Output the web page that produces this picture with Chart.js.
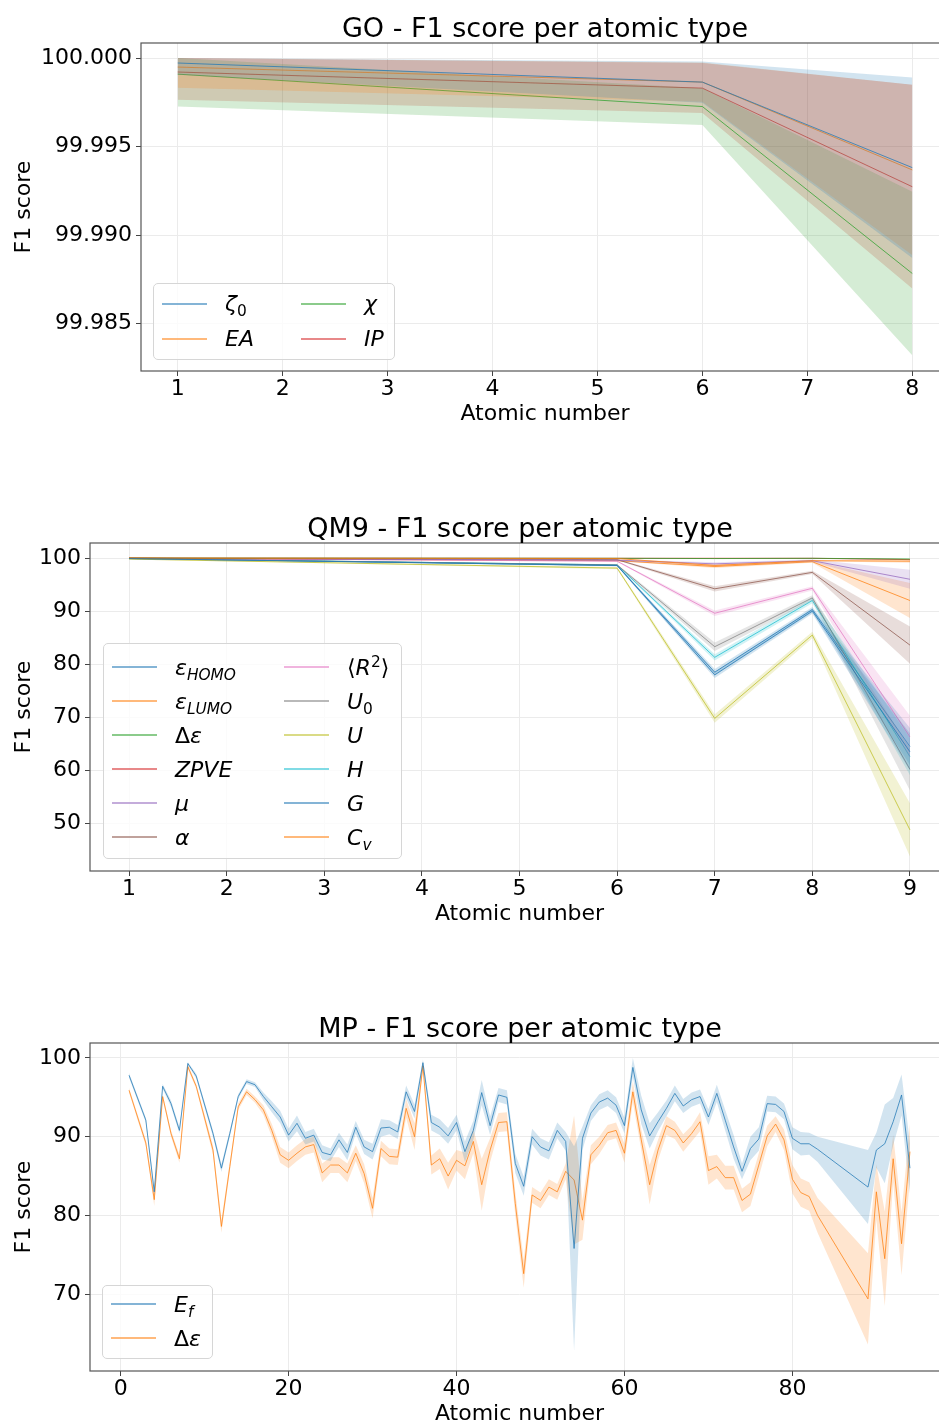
<!DOCTYPE html>
<html lang="en">
<head>
<meta charset="UTF-8">
<title>F1 score per atomic type</title>
<script src="https://cdn.jsdelivr.net/npm/chart.js@4.4.1/dist/chart.umd.min.js"></script>
<style>
    html, body { margin: 0; padding: 0; background: #fff; overflow: hidden; }
    body { width: 939px; height: 1424px; position: relative; font-family: 'DejaVu Sans', sans-serif; color: #000; }
    .panel { position: absolute; left: 0; width: 950px; height: 440px; }
    .panel canvas { position: absolute; left: 0; top: 0; }
    .ptitle { position: absolute; top: 14px; font-size: 27px; line-height: 27px; white-space: nowrap; transform: translateX(-50%); }
    .legend { position: absolute; box-sizing: border-box; background: rgba(255,255,255,0.8); border: 1px solid #d6d6d6; border-radius: 5px; }
    .legend .grid { display: grid; grid-auto-flow: column; column-gap: 44px; padding-left: 8px; }
    .legend .item { display: flex; align-items: center; font-size: 22px; white-space: nowrap; }
    .legend .swatch { display: block; flex: none; width: 45px; height: 2px; margin-right: 18px; }
    sub, sup { font-size: 70%; line-height: 0; }
</style>
</head>
<body>
    <div class="panel" style="top:0">
        <canvas id="goChart" width="950" height="440"></canvas>
        <div class="ptitle" style="left:545px">GO - F1 score per atomic type</div>
    </div>
    <div class="panel" style="top:500px">
        <canvas id="qm9Chart" width="950" height="440"></canvas>
        <div class="ptitle" style="left:520px">QM9 - F1 score per atomic type</div>
    </div>
    <div class="panel" style="top:1000px">
        <canvas id="mpChart" width="950" height="440"></canvas>
        <div class="ptitle" style="left:520px">MP - F1 score per atomic type</div>
    </div>

<script>
// tab10 colours
const tab = {
    blue: '31,119,180', orange: '255,127,14', green: '44,160,44', red: '214,39,40',
    purple: '148,103,189', brown: '140,86,75', pink: '227,119,194', gray: '127,127,127',
    olive: '188,189,34', cyan: '23,190,207'
};

// ---- GO ----
const goAtoms = [1, 6, 8];
const goZeta = [99.99972, 99.99864, 99.99381];
const goZetaLo = [99.99905, 99.99747, 99.98871];
const goZetaHi = [100.00000, 99.99981, 99.99890];
const goEA = [99.99949, 99.99864, 99.99368];
const goEALo = [99.99832, 99.99753, 99.98887];
const goEAHi = [100.00000, 99.99975, 99.99849];
const goChi = [99.99909, 99.99726, 99.98783];
const goChiLo = [99.99726, 99.99622, 99.98321];
const goChiHi = [100.00000, 99.99830, 99.99245];
const goIP = [99.99921, 99.99830, 99.99273];
const goIPLo = [99.99764, 99.99689, 99.98698];
const goIPHi = [100.00000, 99.99972, 99.99849];
const goYTicks = [99.985, 99.990, 99.995, 100.000];
const goYLabels = ['99.985', '99.990', '99.995', '100.000'];
const goXTicks = [1, 2, 3, 4, 5, 6, 7, 8];
const goLabels = ['<i>ζ</i><sub>0</sub>', '<i>EA</i>', '<i>χ</i>', '<i>IP</i>'];

// ---- QM9 ----
const qm9Atoms = [1, 6, 7, 8, 9];
const qm9Homo = [99.9, 98.6, 78.0, 90.0, 63.5];
const qm9HomoErr = [0.05, 0.15, 0.6, 0.5, 3.5];
const qm9Lumo = [100.0, 99.9, 98.6, 99.5, 99.4];
const qm9LumoErr = [0.02, 0.05, 0.2, 0.1, 0.3];
const qm9Gap = [100.0, 99.95, 99.9, 99.95, 99.8];
const qm9GapErr = [0.02, 0.03, 0.05, 0.05, 0.1];
const qm9Zpve = [100.0, 99.95, 99.95, 99.95, 99.7];
const qm9ZpveErr = [0.02, 0.03, 0.05, 0.05, 0.1];
const qm9Mu = [99.95, 99.6, 98.9, 99.5, 96.0];
const qm9MuErr = [0.03, 0.1, 0.3, 0.2, 1.8];
const qm9Alpha = [99.95, 99.7, 94.2, 97.3, 83.6];
const qm9AlphaErr = [0.03, 0.1, 0.5, 0.3, 3.5];
const qm9R2 = [99.95, 99.4, 89.6, 94.3, 66.3];
const qm9R2Err = [0.03, 0.1, 0.5, 0.4, 4.0];
const qm9U0 = [99.9, 98.7, 83.3, 92.5, 60.2];
const qm9U0Err = [0.05, 0.15, 0.8, 0.5, 4.0];
const qm9U = [99.8, 98.1, 69.8, 85.5, 48.8];
const qm9UErr = [0.05, 0.2, 0.8, 0.6, 5.0];
const qm9H = [99.9, 98.7, 81.3, 92.0, 62.6];
const qm9HErr = [0.05, 0.15, 0.6, 0.5, 3.5];
const qm9G = [99.9, 98.6, 78.5, 90.3, 64.5];
const qm9GErr = [0.05, 0.15, 0.6, 0.5, 3.5];
const qm9Cv = [99.95, 99.5, 98.4, 99.3, 92.0];
const qm9CvErr = [0.03, 0.1, 0.3, 0.2, 3.3];
const qm9YTicks = [50, 60, 70, 80, 90, 100];
const qm9XTicks = [1, 2, 3, 4, 5, 6, 7, 8, 9];
const qm9Labels = ['<i>ε</i><sub><i>HOMO</i></sub>', '<i>ε</i><sub><i>LUMO</i></sub>', 'Δ<i>ε</i>', '<i>ZPVE</i>',
    '<i>μ</i>', '<i>α</i>', '⟨<i>R</i><sup>2</sup>⟩', '<i>U</i><sub>0</sub>', '<i>U</i>', '<i>H</i>', '<i>G</i>',
    '<i>C</i><sub><i>v</i></sub>'];

// ---- MP ----
const mpAtoms = [1, 3, 4, 5, 6, 7, 8, 9,
    11, 12, 13, 14, 15, 16, 17, 18, 19, 20,
    21, 22, 23, 24, 25, 26, 27, 28, 29, 30,
    31, 32, 33, 34, 35, 36, 37, 38, 39, 40,
    41, 42, 43, 44, 45, 46, 47, 48, 49, 50,
    51, 52, 53, 54, 55, 56, 57, 58, 59, 60,
    61, 62, 63, 64, 65, 66, 67, 68, 69, 70,
    71, 72, 73, 74, 75, 76, 77, 78, 79, 80,
    81, 82, 83, 89, 90, 91, 92, 93, 94];
const mpEf = [97.8, 92.1, 83.0, 96.4, 94.2, 90.8, 99.3, 97.7,
    90.4, 86.0, 90.4, 95.1, 97.0, 96.6, 95.1, 93.8, 92.5, 90.2,
    91.7, 89.8, 90.2, 88.0, 87.7, 89.6, 88.0, 91.2, 88.7, 88.1,
    91.1, 91.2, 90.6, 95.7, 93.2, 99.4, 91.8, 91.2, 90.1, 91.8,
    88.1, 90.8, 95.6, 91.4, 95.3, 95.0, 86.6, 83.7, 90.0, 88.7,
    88.2, 90.8, 89.4, 75.8, 89.8, 93.0, 94.4, 94.9, 94.0, 91.4,
    98.8, 93.4, 90.1, 91.9, 93.6, 95.5, 93.9, 94.7, 95.1, 92.5,
    95.5, 92.1, 88.7, 85.6, 88.5, 89.7, 94.2, 94.1, 93.2, 89.8,
    89.1, 89.1, 88.4, 83.6, 88.3, 89.1, 91.9, 95.3, 86.0];
const mpEfErr = [0.3, 0.3, 0.5, 0.3, 0.4, 0.4, 0.2, 0.3,
    0.4, 0.5, 0.4, 0.3, 0.3, 0.3, 0.5, 0.7, 0.8, 0.8,
    1.0, 0.8, 0.8, 0.9, 0.8, 0.9, 1.0, 0.8, 0.9, 1.0,
    1.1, 0.9, 0.9, 0.8, 0.9, 0.4, 1.0, 1.0, 1.0, 1.0,
    1.3, 1.2, 1.6, 1.2, 0.9, 0.9, 1.2, 1.2, 1.0, 1.1,
    1.1, 1.0, 1.2, 13.0, 1.5, 1.0, 1.0, 1.0, 1.0, 1.0,
    1.2, 1.8, 1.6, 1.2, 1.0, 1.0, 0.9, 0.9, 0.9, 1.0,
    1.1, 1.3, 1.5, 1.0, 1.5, 1.5, 1.0, 1.0, 1.0, 1.4,
    1.5, 1.4, 1.6, 4.7, 2.2, 5.0, 3.0, 2.6, 3.2];
const mpGap = [95.9, 89.2, 82.0, 95.1, 90.4, 87.2, 98.9, 96.4,
    88.3, 78.6, 86.2, 93.8, 95.7, 94.7, 93.4, 90.8, 87.7, 87.0,
    87.9, 88.7, 89.0, 85.4, 86.4, 86.4, 85.4, 87.9, 85.3, 80.9,
    88.5, 87.5, 87.4, 93.6, 90.0, 99.0, 86.4, 87.2, 85.0, 87.0,
    86.3, 89.4, 83.9, 88.3, 91.8, 91.9, 81.5, 72.6, 82.6, 81.9,
    83.6, 83.0, 85.6, 84.5, 79.4, 87.7, 88.9, 90.5, 90.8, 87.9,
    95.7, 89.6, 83.9, 88.3, 91.4, 90.8, 89.2, 90.4, 91.9, 85.7,
    86.2, 84.8, 84.8, 81.9, 82.7, 86.4, 90.1, 91.6, 89.6, 84.6,
    82.9, 82.4, 80.0, 69.4, 83.0, 74.5, 87.2, 76.4, 88.1];
const mpGapErr = [0.3, 0.4, 0.8, 0.3, 0.4, 0.5, 0.3, 0.3,
    0.6, 0.8, 0.6, 0.4, 0.4, 0.4, 0.6, 0.8, 1.0, 1.0,
    1.0, 1.0, 1.0, 1.2, 1.0, 1.0, 1.2, 1.0, 1.2, 1.3,
    1.0, 1.0, 1.0, 1.2, 1.7, 0.5, 1.2, 1.3, 1.7, 1.3,
    1.7, 1.5, 3.3, 1.5, 1.2, 1.2, 1.5, 1.8, 1.0, 1.0,
    1.0, 1.0, 1.0, 8.2, 2.5, 1.2, 1.1, 1.0, 1.0, 1.2,
    1.3, 1.3, 2.5, 1.3, 1.2, 1.1, 1.1, 1.0, 1.2, 1.8,
    1.5, 1.5, 1.5, 1.5, 1.5, 1.5, 1.3, 1.0, 1.3, 1.8,
    1.8, 1.8, 2.2, 5.8, 3.5, 6.0, 3.0, 4.0, 3.5];
const mpYTicks = [70, 80, 90, 100];
const mpXTicks = [0, 20, 40, 60, 80];
const mpLabels = ['<i>E</i><sub><i>f</i></sub>', 'Δ<i>ε</i>'];

Chart.defaults.font.family = "'DejaVu Sans', sans-serif";
Chart.defaults.font.size = 22;
Chart.defaults.color = '#000';

// mean line followed by its shaded band
function band(xs, mean, lo, hi, rgb) {
    const pts = a => xs.map((x, i) => ({x: x, y: a[i]}));
    return [
        {data: pts(mean), borderColor: 'rgba(' + rgb + ',0.75)', borderWidth: 1, pointRadius: 0, fill: false, tension: 0},
        {data: pts(hi), borderColor: 'rgba(0,0,0,0)', borderWidth: 0, pointRadius: 0, fill: '+1', backgroundColor: 'rgba(' + rgb + ',0.2)'},
        {data: pts(lo), borderColor: 'rgba(0,0,0,0)', borderWidth: 0, pointRadius: 0, fill: false}
    ];
}
function bandErr(xs, mean, err, rgb) {
    return band(xs, mean, mean.map((v, i) => v - err[i]), mean.map((v, i) => v + err[i]), rgb);
}

const framePlugin = {
    id: 'frame',
    afterDatasetsDraw(chart) {
        const {ctx, chartArea: a} = chart;
        ctx.save();
        ctx.strokeStyle = '#555';
        ctx.lineWidth = 1.2;
        ctx.strokeRect(a.left, a.top, a.right - a.left, a.bottom - a.top);
        ctx.restore();
    }
};

function makeChart(id, datasets, o) {
    return new Chart(document.getElementById(id), {
        type: 'line',
        data: {datasets: datasets},
        options: {
            responsive: false,
            animation: false,
            devicePixelRatio: 1,
            layout: {padding: {top: 43, right: 1, left: 0, bottom: 0}},
            plugins: {legend: {display: false}, tooltip: {enabled: false}, title: {display: false}},
            scales: {
                x: {
                    type: 'linear', min: o.xMin, max: o.xMax,
                    afterBuildTicks: s => { s.ticks = o.xTicks.map(v => ({value: v})); },
                    afterFit: s => { s.height = 69; },
                    grid: {color: '#ebebeb', tickColor: '#444', tickLength: 5},
                    border: {display: false},
                    ticks: {padding: 0, maxRotation: 0, autoSkip: false, callback: (v, i) => o.xLabels[i]},
                    title: {display: true, text: 'Atomic number', padding: {top: 0, bottom: 13}}
                },
                y: {
                    type: 'linear', min: o.yMin, max: o.yMax,
                    afterBuildTicks: s => { s.ticks = o.yTicks.map(v => ({value: v})); },
                    afterFit: s => { s.width = o.yWidth; },
                    grid: {color: '#ebebeb', tickColor: '#444', tickLength: 5},
                    border: {display: false},
                    ticks: {padding: 4, autoSkip: false, callback: (v, i) => o.yLabels[i]},
                    title: {display: true, text: 'F1 score', padding: {top: 11, bottom: 0}}
                }
            }
        },
        plugins: [framePlugin]
    });
}

function makeLegend(panelIdx, labels, colors, box) {
    const panel = document.querySelectorAll('.panel')[panelIdx];
    const div = document.createElement('div');
    div.className = 'legend';
    div.style.left = box.left + 'px';
    div.style.top = box.top + 'px';
    div.style.width = box.width + 'px';
    div.style.height = box.height + 'px';
    const grid = document.createElement('div');
    grid.className = 'grid';
    grid.style.paddingTop = box.padTop + 'px';
    grid.style.gridTemplateRows = 'repeat(' + box.rows + ', ' + box.rowH + 'px)';
    grid.style.gridTemplateColumns = box.cols;
    labels.forEach((lab, i) => {
        const item = document.createElement('div');
        item.className = 'item';
        const sw = document.createElement('span');
        sw.className = 'swatch';
        sw.style.backgroundColor = 'rgba(' + colors[i] + ',0.55)';
        const tx = document.createElement('span');
        tx.innerHTML = lab;
        item.appendChild(sw);
        item.appendChild(tx);
        grid.appendChild(item);
    });
    div.appendChild(grid);
    panel.appendChild(div);
}

// GO
const goColors = [tab.blue, tab.orange, tab.green, tab.red];
makeChart('goChart', [].concat(
    band(goAtoms, goZeta, goZetaLo, goZetaHi, goColors[0]),
    band(goAtoms, goEA, goEALo, goEAHi, goColors[1]),
    band(goAtoms, goChi, goChiLo, goChiHi, goColors[2]),
    band(goAtoms, goIP, goIPLo, goIPHi, goColors[3])
), {
    xMin: 0.65, xMax: 8.35, xTicks: goXTicks, xLabels: goXTicks.map(String),
    yMin: 99.98232, yMax: 100.00085, yTicks: goYTicks, yLabels: goYLabels, yWidth: 141
});
makeLegend(0, goLabels, goColors, {left: 153, top: 283, width: 242, height: 77, padTop: 2, rows: 2, rowH: 35, cols: '95px auto'});

// QM9
const qm9Colors = [tab.blue, tab.orange, tab.green, tab.red, tab.purple, tab.brown,
    tab.pink, tab.gray, tab.olive, tab.cyan, tab.blue, tab.orange];
const qm9Means = [qm9Homo, qm9Lumo, qm9Gap, qm9Zpve, qm9Mu, qm9Alpha, qm9R2, qm9U0, qm9U, qm9H, qm9G, qm9Cv];
const qm9Errs = [qm9HomoErr, qm9LumoErr, qm9GapErr, qm9ZpveErr, qm9MuErr, qm9AlphaErr, qm9R2Err, qm9U0Err, qm9UErr, qm9HErr, qm9GErr, qm9CvErr];
let qm9Sets = [];
qm9Means.forEach((m, k) => { qm9Sets = qm9Sets.concat(bandErr(qm9Atoms, m, qm9Errs[k], qm9Colors[k])); });
makeChart('qm9Chart', qm9Sets, {
    xMin: 0.6, xMax: 9.4, xTicks: qm9XTicks, xLabels: qm9XTicks.map(String),
    yMin: 41.06, yMax: 102.83, yTicks: qm9YTicks, yLabels: qm9YTicks.map(String), yWidth: 90
});
makeLegend(1, qm9Labels, qm9Colors, {left: 103, top: 143, width: 299, height: 216, padTop: 6, rows: 6, rowH: 34, cols: '128px auto'});

// MP
const mpColors = [tab.blue, tab.orange];
makeChart('mpChart', [].concat(
    bandErr(mpAtoms, mpEf, mpEfErr, mpColors[0]),
    bandErr(mpAtoms, mpGap, mpGapErr, mpColors[1])
), {
    xMin: -3.65, xMax: 98.65, xTicks: mpXTicks, xLabels: mpXTicks.map(String),
    yMin: 60.24, yMax: 101.9, yTicks: mpYTicks, yLabels: mpYTicks.map(String), yWidth: 90
});
makeLegend(2, mpLabels, mpColors, {left: 102, top: 285, width: 111, height: 74, padTop: 1, rows: 2, rowH: 34, cols: 'auto'});
</script>
</body>
</html>
